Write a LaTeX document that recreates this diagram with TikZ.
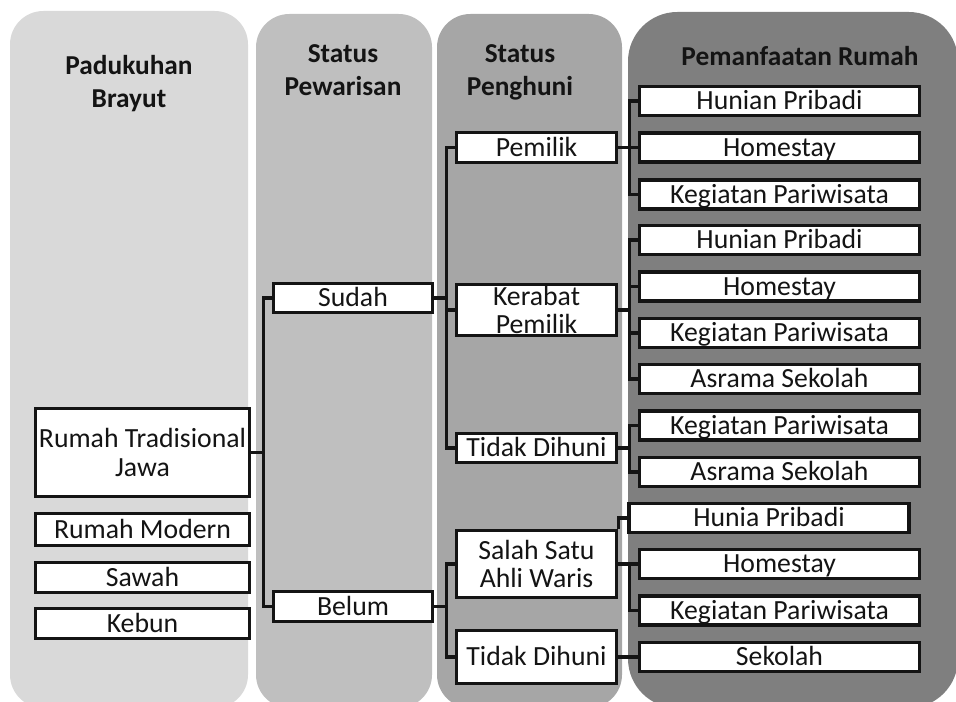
\documentclass[tikz,border=0pt]{standalone}
\usepackage{fontspec}
\setmainfont{Carlito}
\definecolor{panelA}{HTML}{D9D9D9}
\definecolor{panelB}{HTML}{BFBFBF}
\definecolor{panelC}{HTML}{A6A6A6}
\definecolor{panelD}{HTML}{7F7F7F}
\definecolor{ink}{HTML}{141414}
\begin{document}
\begin{tikzpicture}[
    x=0.75pt, y=-0.75pt,
    panel/.style={rounded corners=25pt},
    headlbl/.style={font=\bfseries\fontsize{20.5}{24.75}\selectfont, text=ink, align=center, inner sep=0pt},
    itembox/.style={draw=ink, fill=white, line width=2.5pt, text=ink, align=center, inner sep=0pt,
      font=\fontsize{20.8}{21.4}\selectfont},
    oneline/.style={itembox, text height=15.5pt, text depth=2.1pt},
    usebox/.style={oneline, minimum width=210pt, minimum height=21.75pt},
    link/.style={draw=ink, line width=2.4pt}
  ]
  \useasboundingbox (0,0) rectangle (956,702);
  % column panels
  \fill[panelA, panel] (10,11) rectangle (248,708);
  \fill[panelB, panel] (256,14) rectangle (432,708);
  \fill[panelC, panel] (437,14) rectangle (622,708);
  \fill[panelD, rounded corners=37pt] (628,12) rectangle (958,708);
  % headers
  \node[headlbl] (h1) at (129,84) {Padukuhan\\Brayut};
  \node[headlbl] (h2) at (343,70) {Status\\Pewarisan};
  \node[headlbl] (h3) at (520,72) {Status\\Penghuni};
  \node[headlbl, anchor=base] (h4) at (800,66) {Pemanfaatan Rumah};
  % objects
  \node[itembox, minimum width=160.5pt, minimum height=66pt] (rtj) at (142.5,452.5) {Rumah Tradisional\\Jawa};
  \node[oneline, minimum width=160.5pt, minimum height=24pt] (rmod) at (142.5,529.5) {Rumah Modern};
  \node[oneline, minimum width=160.5pt, minimum height=22.5pt] (sawah) at (142.5,577.5) {Sawah};
  \node[oneline, minimum width=160.5pt, minimum height=22.5pt] (kebun) at (142.5,623.5) {Kebun};
  % inheritance
  \node[oneline, minimum width=119.25pt, minimum height=21.75pt] (sudah) at (353,298) {Sudah};
  \node[oneline, minimum width=119.25pt, minimum height=22.5pt] (belum) at (353,606.5) {Belum};
  % occupants
  \node[oneline, minimum width=120pt, minimum height=22.5pt] (pemilik) at (536.5,147.5) {Pemilik};
  \node[itembox, minimum width=120pt, minimum height=38.25pt] (kerabat) at (536.5,310) {Kerabat\\Pemilik};
  \node[oneline, minimum width=120pt, minimum height=21.75pt] (tidak) at (536.5,448) {Tidak Dihuni};
  \node[itembox, minimum width=120pt, minimum height=50.25pt] (salah) at (536.5,564) {Salah Satu\\Ahli Waris};
  \node[oneline, minimum width=120pt, minimum height=39.75pt] (tidakb) at (536.5,657) {Tidak Dihuni};
  % uses
  \foreach \nm/\yy/\txt in {%
    u1/101/Hunian Pribadi, u2/147.5/Homestay, u3/194.5/Kegiatan Pariwisata,
    u4/240/Hunian Pribadi, u5/286.5/Homestay, u6/333/Kegiatan Pariwisata,
    u7/379/Asrama Sekolah, u8/425.5/Kegiatan Pariwisata, u9/472/Asrama Sekolah,
    u11/564/Homestay, u12/610.5/Kegiatan Pariwisata, u13/657/Sekolah%
  }{
    \node[usebox] (\nm) at (779.5,\yy) {\txt};
  }
  \node[usebox] (u10) at (769,518) {Hunia Pribadi};
  % connectors
  \draw[link] (rtj.east) -- ++(12,0) coordinate (j1);
  \draw[link] (sudah.west) -| (j1) |- (belum.west);
  \draw[link] (sudah.east) -- ++(12,0) coordinate (j2);
  \draw[link] (pemilik.west) -| (j2) |- (tidak.west);
  \draw[link] (j2 |- kerabat.west) -- (kerabat.west);
  \draw[link] (belum.east) -- ++(12,0) coordinate (j3);
  \draw[link] (salah.west) -| (j3) |- (tidakb.west);
  \draw[link] (pemilik.east) -- ++(11.5,0) coordinate (k1);
  \draw[link] (u1.west) -| (k1) |- (u3.west);
  \draw[link] (k1) -- (u2.west);
  \draw[link] (kerabat.east) -- ++(11.5,0) coordinate (k2);
  \draw[link] (u4.west) -| (k2) |- (u7.west);
  \draw[link] (k2 |- u5.west) -- (u5.west);
  \draw[link] (k2 |- u6.west) -- (u6.west);
  \draw[link] (tidak.east) -- ++(11.5,0) coordinate (k3);
  \draw[link] (u8.west) -| (k3) |- (u9.west);
  \draw[link] (salah.east) -- ++(11.5,0) coordinate (k4);
  \draw[link] (k4) -- (u11.west);
  \draw[link] (k4) |- (u12.west);
  \draw[link] (salah.north east) |- (u10.west);
  \draw[link] (tidakb.east) -- (u13.west);
\end{tikzpicture}
\end{document}
